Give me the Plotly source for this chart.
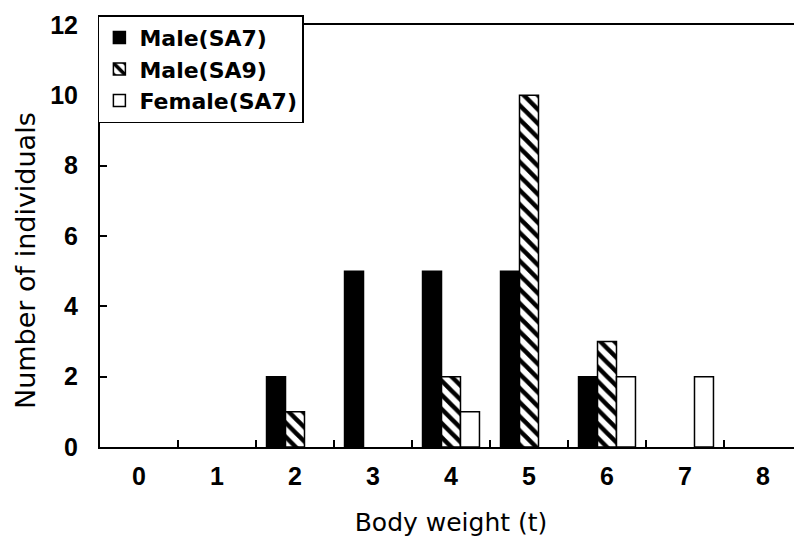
import plotly.graph_objects as go

categories = ['0', '1', '2', '3', '4', '5', '6', '7', '8']
male_sa7 = [0, 0, 2, 5, 5, 5, 2, 0, 0]
male_sa9 = [0, 0, 1, 0, 2, 10, 3, 0, 0]
female_sa7 = [0, 0, 0, 0, 1, 0, 2, 2, 0]
y_ticks = [0, 2, 4, 6, 8, 10, 12]

TICK_FONT = dict(family='Liberation Sans', size=25, weight='bold')
LEGEND_FONT = dict(family='DejaVu Sans', size=22, weight='bold')


def shown(vals):
    # empty classes are left out so no flat outline is drawn on the axis
    return [v if v else None for v in vals]


fig = go.Figure()

fig.add_trace(go.Bar(
    x=categories, y=shown(male_sa7), name='Male(SA7)',
    marker=dict(color='black', line=dict(color='black', width=1.5))
))
fig.add_trace(go.Bar(
    x=categories, y=shown(male_sa9), name='Male(SA9)',
    marker=dict(color='white', line=dict(color='black', width=1.5),
                pattern=dict(shape='\\', fgcolor='black', bgcolor='white',
                             size=10, solidity=0.45, fillmode='replace'))
))
fig.add_trace(go.Bar(
    x=categories, y=shown(female_sa7), name='Female(SA7)',
    marker=dict(color='white', line=dict(color='black', width=1.5))
))

# y title placed as an annotation, it sits a bit below the plot middle
fig.add_annotation(
    text='Number of individuals', textangle=-90,
    xref='paper', yref='paper', x=-0.131, y=0.442,
    showarrow=False, font=dict(family='DejaVu Sans', size=27),
)

fig.update_layout(
    width=802, height=549,
    margin=dict(l=92, r=8, t=16, b=110),
    plot_bgcolor='white', paper_bgcolor='white',
    barmode='group', bargap=0.27, bargroupgap=0,
    font=dict(family='DejaVu Sans', color='black', size=20),
    showlegend=True,
    legend=dict(
        x=-0.003, y=1.021, xanchor='left', yanchor='top',
        bgcolor='white', bordercolor='black', borderwidth=1.5,
        font=LEGEND_FONT, tracegroupgap=0, itemwidth=30,
    ),
    xaxis=dict(
        type='category', range=[-0.5, 8.5], automargin=False,
        showline=True, linecolor='black', linewidth=2, mirror=True,
        ticks='inside', ticklen=7, tickcolor='black', tickwidth=1.5,
        tickson='boundaries', showgrid=False,
        ticklabelstandoff=6, tickfont=TICK_FONT,
        title=dict(text='Body weight (t)', font=dict(family='DejaVu Sans', size=25), standoff=24),
    ),
    yaxis=dict(
        range=[0, 12], tickvals=y_ticks, automargin=False,
        showline=True, linecolor='black', linewidth=2,
        ticks='inside', ticklen=7, tickcolor='black', tickwidth=1.5,
        showgrid=False, zeroline=False,
        ticklabelstandoff=15, tickfont=TICK_FONT,
    ),
)

fig.write_html('out.html')
